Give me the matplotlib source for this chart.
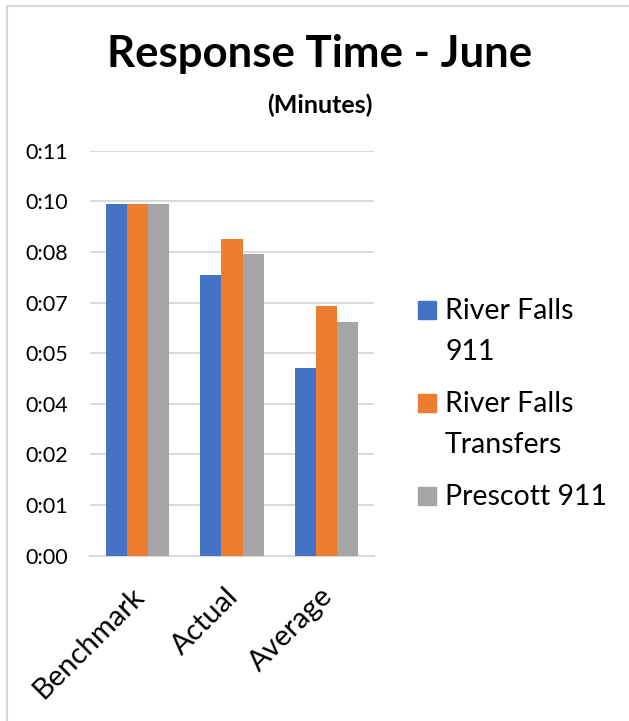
import matplotlib.pyplot as plt
import matplotlib.transforms as mtrans
from matplotlib.lines import Line2D
from matplotlib.patches import Rectangle
import numpy as np

plt.rcParams['font.family'] = ['Lato', 'DejaVu Sans']

# response times in minutes
categories = ['Benchmark', 'Actual', 'Average']
series_names = [['River Falls', '911'], ['River Falls', 'Transfers'], ['Prescott 911']]
river_falls_911 = [9.92, 7.92, 5.29]
river_falls_transfers = [9.92, 8.93, 7.05]
prescott_911 = [9.92, 8.52, 6.59]
series = [river_falls_911, river_falls_transfers, prescott_911]
colors = ['#4472C4', '#ED7D31', '#A5A5A5']

# excel picked an odd major unit, labels are truncated minutes
tick_step = 10 / 7
tick_values = [i * tick_step for i in range(9)]
tick_labels = ['0:00', '0:01', '0:02', '0:04', '0:05', '0:07', '0:08', '0:10', '0:11']

W, H = 629, 721
fig = plt.figure(figsize=(W / 100, H / 100), dpi=100)

def fx(px):
    return px / W

def fy(py):
    return 1 - py / H

ax = fig.add_axes([fx(90), fy(555.7), fx(284), 405 / H])

x = np.arange(len(categories))
bw = 0.224
for i, (vals, c) in enumerate(zip(series, colors)):
    ax.bar(x + (i - 1) * bw, vals, width=bw, color=c, zorder=3)

ax.set_xlim(-0.5, len(categories) - 0.5)
ax.set_ylim(0, tick_values[-1])
ax.set_yticks(tick_values)
ax.set_yticklabels(tick_labels, fontsize=15.5)
ax.yaxis.grid(True, color='#D9D9D9', linewidth=1.4, zorder=0)
ax.tick_params(axis='y', length=0, pad=16)
ax.tick_params(axis='x', length=0, pad=6)
ax.set_xticks(x)
ax.set_xticklabels(categories, fontsize=21, rotation=45, ha='right',
                   va='top', rotation_mode='anchor')
shift = mtrans.ScaledTranslation(-7 / 100, -19 / 100, fig.dpi_scale_trans)
for lab in ax.get_xticklabels():
    lab.set_transform(lab.get_transform() + shift)
for s in ['top', 'right', 'left']:
    ax.spines[s].set_visible(False)
ax.spines['bottom'].set_color('#D9D9D9')
ax.spines['bottom'].set_linewidth(1.4)

fig.text(fx(320), fy(67), 'Response Time - June', fontsize=31.5,
         fontweight='bold', ha='center', va='baseline')
fig.text(fx(320), fy(113), '(Minutes)', fontsize=18,
         fontweight='bold', ha='center', va='baseline')

# legend drawn by hand so the swatch sits on the first line
base = 319.3
for names, c in zip(series_names, colors):
    fig.patches.append(Rectangle((fx(418), fy(base)), fx(18), 18 / H,
                                 color=c, transform=fig.transFigure))
    for j, line in enumerate(names):
        fig.text(fx(445), fy(base + j * 41), line, fontsize=20.5,
                 ha='left', va='baseline')
    base += len(names) * 41 + 52 - 41

# chart border
fig.add_artist(Line2D([fx(7), 1], [fy(6), fy(6)], color='#D9D9D9', lw=1.5))
fig.add_artist(Line2D([fx(7), fx(7)], [fy(6), 0], color='#D9D9D9', lw=1.5))

fig.savefig('out.png', dpi=100)
